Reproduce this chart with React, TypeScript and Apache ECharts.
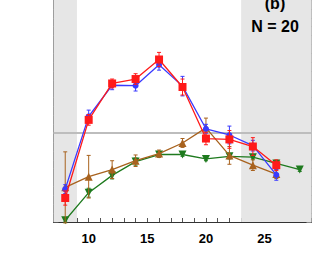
import React, { useEffect, useRef } from "react";
import * as echarts from "echarts";

const xBlue = [8, 10, 12, 14, 16, 18, 20, 22, 24, 26];
const yBlue = [0.37, 1.19, 1.54, 1.535, 1.77, 1.53, 1.05, 0.98, 0.86, 0.53];
const eBlue = [0.05, 0.07, 0.05, 0.06, 0.06, 0.11, 0.05, 0.1, 0.06, 0.06];

const xRed = [8, 10, 12, 14, 16, 18, 20, 22, 24, 26];
const yRed = [0.27, 1.15, 1.56, 1.61, 1.83, 1.52, 0.94, 0.93, 0.85, 0.64];
const eRed = [0.08, 0.06, 0.05, 0.06, 0.08, 0.09, 0.07, 0.1, 0.1, 0.06];

const xBrown = [8, 10, 12, 14, 16, 18, 20, 22, 24, 26];
const yBrown = [0.39, 0.51, 0.59, 0.69, 0.77, 0.89, 1.06, 0.75, 0.64, 0.54];
const eBrown = [0.4, 0.24, 0.1, 0.065, 0.04, 0.05, 0.11, 0.1, 0.06, 0.05];

const xGreen = [8, 10, 12, 14, 16, 18, 20, 22, 24, 26, 28];
const yGreen = [0.02, 0.33, 0.525, 0.68, 0.76, 0.76, 0.71, 0.74, 0.73, 0.66, 0.59];
const eGreen = [0.02, 0.05, 0.04, 0.04, 0.03, 0.02, 0.02, 0.03, 0.02, 0.03, 0.02];

const xTickLabels = [10, 15, 20, 25];
const shadedRanges = [
  [7, 9],
  [23, 29],
];
const refLine = 1;

const BLUE = "#3a3aff";
const RED = "#ff1a1a";
const BROWN = "#a8621e";
const GREEN = "#1e7a1e";

function pts(xs: number[], ys: number[]) {
  return xs.map((x, i) => [x, ys[i]]);
}
function errs(xs: number[], ys: number[], es: number[]) {
  return xs.map((x, i) => [x, ys[i] - es[i], ys[i] + es[i]]);
}

function errSeries(data: number[][], color: string, z: number) {
  return {
    type: "custom",
    z,
    silent: true,
    data,
    encode: { x: 0, y: [1, 2] },
    renderItem: (params: any, api: any) => {
      const x = api.value(0);
      const lo = api.coord([x, api.value(1)]);
      const hi = api.coord([x, api.value(2)]);
      const c = 2;
      const st = { stroke: color, lineWidth: 1 };
      return {
        type: "group",
        children: [
          { type: "line", shape: { x1: lo[0], y1: lo[1], x2: hi[0], y2: hi[1] }, style: st },
          { type: "line", shape: { x1: lo[0] - c, y1: lo[1], x2: lo[0] + c, y2: lo[1] }, style: st },
          { type: "line", shape: { x1: hi[0] - c, y1: hi[1], x2: hi[0] + c, y2: hi[1] }, style: st },
        ],
      };
    },
  };
}

function lineSeries(data: number[][], color: string, symbol: string, size: number, z: number, rotate = 0) {
  return {
    type: "line",
    z,
    data,
    symbol,
    symbolSize: size,
    symbolRotate: rotate,
    showAllSymbol: true,
    lineStyle: { color, width: 1.3 },
    itemStyle: { color },
  };
}

export default function App() {
  const ref = useRef<HTMLDivElement>(null);
  useEffect(() => {
    if (!ref.current) return;
    const chart = echarts.init(ref.current, null, { renderer: "svg" });
    const yAxisBase = (pos: string, lineColor: string) => ({
      type: "value",
      position: pos,
      min: 0,
      max: 2.5,
      interval: 0.5,
      axisLine: { show: true, lineStyle: { color: lineColor, width: 1 } },
      axisTick: { show: true, inside: true, length: 5, lineStyle: { color: "#555" } },
      minorTick: { show: true, splitNumber: 5, length: 3, lineStyle: { color: "#777" } },
      axisLabel: { show: false },
      splitLine: { show: false },
      minorSplitLine: { show: false },
    });
    chart.setOption({
      animation: false,
      backgroundColor: "#ffffff",
      grid: { left: 53.5, right: 9.5, top: -6.5, bottom: 52 },
      xAxis: {
        type: "value",
        min: 7,
        max: 29,
        interval: 1,
        axisLine: { show: true, onZero: false, lineStyle: { color: "#333", width: 1 } },
        axisTick: { show: true, inside: true, length: 4, lineStyle: { color: "#555" } },
        axisLabel: {
          margin: 10,
          fontFamily: "Liberation Sans, Arial, sans-serif",
          fontWeight: "bold",
          fontSize: 13,
          color: "#000",
          formatter: (v: number) => (xTickLabels.includes(v) ? String(v) : ""),
        },
        splitLine: { show: false },
      },
      yAxis: [yAxisBase("left", "#555"), { ...yAxisBase("right", "#999"), axisTick: { show: true, inside: true, length: 5, lineStyle: { color: "#888" } } }],
      graphic: [
        {
          type: "text",
          x: 275,
          y: 3,
          z: 100,
          zlevel: 1,
          style: {
            text: "(b)",
            font: "bold 16px 'Liberation Sans', Arial, sans-serif",
            fill: "#000",
            textAlign: "center",
            textVerticalAlign: "middle",
          },
        },
        {
          type: "text",
          x: 275,
          y: 26,
          z: 100,
          zlevel: 1,
          style: {
            text: "N = 20",
            font: "bold 16px 'Liberation Sans', Arial, sans-serif",
            fill: "#000",
            textAlign: "center",
            textVerticalAlign: "middle",
          },
        },
      ],
      series: [
        {
          type: "line",
          z: 0,
          data: [],
          silent: true,
          markArea: {
            silent: true,
            itemStyle: { color: "#e6e6e6" },
            data: shadedRanges.map((r) => [{ xAxis: r[0] }, { xAxis: r[1] }]),
          },
          markLine: {
            silent: true,
            symbol: "none",
            label: { show: false },
            lineStyle: { color: "#bdbdbd", width: 2, type: "solid" },
            data: [{ yAxis: refLine }],
          },
        },
        errSeries(errs(xGreen, yGreen, eGreen), GREEN, 2),
        lineSeries(pts(xGreen, yGreen), GREEN, "triangle", 8, 3, 180),
        errSeries(errs(xBrown, yBrown, eBrown), BROWN, 4),
        lineSeries(pts(xBrown, yBrown), BROWN, "triangle", 8, 5),
        errSeries(errs(xBlue, yBlue, eBlue), BLUE, 6),
        lineSeries(pts(xBlue, yBlue), BLUE, "circle", 6, 7),
        errSeries(errs(xRed, yRed, eRed), RED, 8),
        lineSeries(pts(xRed, yRed), RED, "rect", 8, 9),
      ],
    });
    return () => chart.dispose();
  }, []);
  return (
    <div
      ref={ref}
      style={{ position: "absolute", left: 0, top: 0, width: 321, height: 274 }}
    />
  );
}
